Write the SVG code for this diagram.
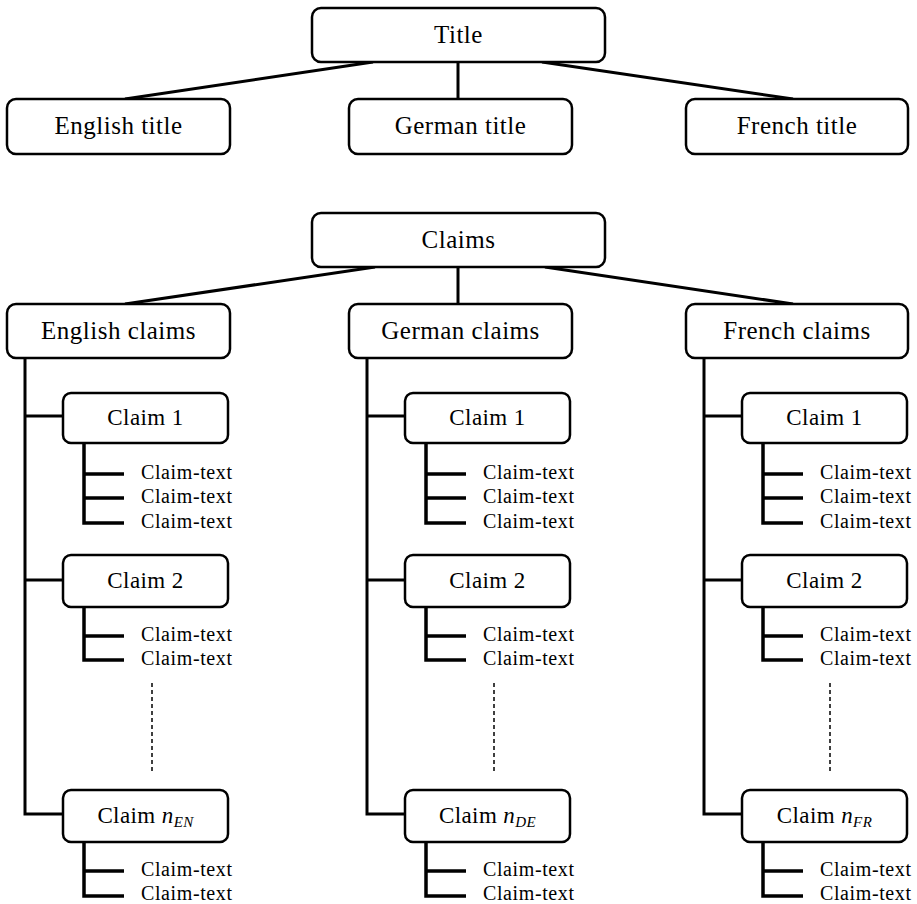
<svg xmlns="http://www.w3.org/2000/svg" width="917" height="904" viewBox="0 0 917 904">
<style>
.box{fill:#fff;stroke:#000;stroke-width:2.5}
.t{font-family:"Liberation Serif","Times New Roman",serif;fill:#000;text-anchor:middle}
.h{font-size:25px;letter-spacing:0.5px}
.c{font-size:23px;letter-spacing:0.4px}
.ct{font-family:"Liberation Serif","Times New Roman",serif;fill:#000;font-size:20px;letter-spacing:0.6px}
.ln{stroke:#000;stroke-width:3;fill:none}
.sub{stroke:#000;stroke-width:3.5;fill:none}
.dash{stroke:#000;stroke-width:1.5;stroke-dasharray:4 3;fill:none}
</style>
<rect width="917" height="904" fill="#fff"/>
<g id="connectors">
  <line class="ln" x1="373" y1="62" x2="125" y2="99"/>
  <line class="ln" x1="458" y1="62" x2="458" y2="99"/>
  <line class="ln" x1="542" y1="62" x2="793" y2="99"/>
  <line class="ln" x1="375" y1="267" x2="125" y2="304"/>
  <line class="ln" x1="458" y1="267" x2="458" y2="304"/>
  <line class="ln" x1="545" y1="267" x2="793" y2="304"/>
  <!-- English -->
  <path class="ln" d="M25 358 V814 H63 M25 416 H63 M25 580 H63"/>
  <path class="sub" d="M84 443 V523 H124 M84 474 H124 M84 498 H124"/>
  <path class="sub" d="M84 607 V660 H124 M84 636 H124"/>
  <path class="sub" d="M84 842 V896 H124 M84 871 H124"/>
  <line class="dash" x1="152" y1="683" x2="152" y2="773"/>
  <!-- German -->
  <path class="ln" d="M367 358 V814 H405 M367 416 H405 M367 580 H405"/>
  <path class="sub" d="M426 443 V523 H466 M426 474 H466 M426 498 H466"/>
  <path class="sub" d="M426 607 V660 H466 M426 636 H466"/>
  <path class="sub" d="M426 842 V896 H466 M426 871 H466"/>
  <line class="dash" x1="494" y1="683" x2="494" y2="773"/>
  <!-- French -->
  <path class="ln" d="M704 358 V814 H742 M704 416 H742 M704 580 H742"/>
  <path class="sub" d="M763 443 V523 H803 M763 474 H803 M763 498 H803"/>
  <path class="sub" d="M763 607 V660 H803 M763 636 H803"/>
  <path class="sub" d="M763 842 V896 H803 M763 871 H803"/>
  <line class="dash" x1="830" y1="683" x2="830" y2="773"/>
</g>
<g id="title"><rect class="box" x="312" y="8" width="293" height="54" rx="9"/><text class="t h" x="458.5" y="43">Title</text></g>
<g id="english-title"><rect class="box" x="7" y="99" width="223" height="55" rx="9"/><text class="t h" x="118.5" y="134">English title</text></g>
<g id="german-title"><rect class="box" x="349" y="99" width="223" height="55" rx="9"/><text class="t h" x="460.5" y="134">German title</text></g>
<g id="french-title"><rect class="box" x="686" y="99" width="222" height="55" rx="9"/><text class="t h" x="797" y="134">French title</text></g>
<g id="claims"><rect class="box" x="312" y="213" width="293" height="54" rx="9"/><text class="t h" x="458.5" y="248">Claims</text></g>
<g id="english-claims"><rect class="box" x="7" y="304" width="223" height="54" rx="9"/><text class="t h" x="118.5" y="339">English claims</text></g>
<g id="german-claims"><rect class="box" x="349" y="304" width="223" height="54" rx="9"/><text class="t h" x="460.5" y="339">German claims</text></g>
<g id="french-claims"><rect class="box" x="686" y="304" width="222" height="54" rx="9"/><text class="t h" x="797" y="339">French claims</text></g>

<g id="en-claim1"><rect class="box" x="63" y="393" width="165" height="50" rx="8"/><text class="t c" x="145.5" y="425">Claim 1</text></g>
<g id="en-claim1-texts"><text class="ct" x="141" y="479">Claim-text</text><text class="ct" x="141" y="503">Claim-text</text><text class="ct" x="141" y="528">Claim-text</text></g>
<g id="en-claim2"><rect class="box" x="63" y="555" width="165" height="52" rx="8"/><text class="t c" x="145.5" y="588">Claim 2</text></g>
<g id="en-claim2-texts"><text class="ct" x="141" y="641">Claim-text</text><text class="ct" x="141" y="665">Claim-text</text></g>
<g id="en-claimn"><rect class="box" x="63" y="790" width="165" height="52" rx="8"/><text class="t c" x="145.5" y="823">Claim <tspan font-style="italic">n</tspan><tspan font-style="italic" font-size="15" dy="4">EN</tspan></text></g>
<g id="en-claimn-texts"><text class="ct" x="141" y="876">Claim-text</text><text class="ct" x="141" y="900">Claim-text</text></g>

<g id="de-claim1"><rect class="box" x="405" y="393" width="165" height="50" rx="8"/><text class="t c" x="487.5" y="425">Claim 1</text></g>
<g id="de-claim1-texts"><text class="ct" x="483" y="479">Claim-text</text><text class="ct" x="483" y="503">Claim-text</text><text class="ct" x="483" y="528">Claim-text</text></g>
<g id="de-claim2"><rect class="box" x="405" y="555" width="165" height="52" rx="8"/><text class="t c" x="487.5" y="588">Claim 2</text></g>
<g id="de-claim2-texts"><text class="ct" x="483" y="641">Claim-text</text><text class="ct" x="483" y="665">Claim-text</text></g>
<g id="de-claimn"><rect class="box" x="405" y="790" width="165" height="52" rx="8"/><text class="t c" x="487.5" y="823">Claim <tspan font-style="italic">n</tspan><tspan font-style="italic" font-size="15" dy="4">DE</tspan></text></g>
<g id="de-claimn-texts"><text class="ct" x="483" y="876">Claim-text</text><text class="ct" x="483" y="900">Claim-text</text></g>

<g id="fr-claim1"><rect class="box" x="742" y="393" width="165" height="50" rx="8"/><text class="t c" x="824.5" y="425">Claim 1</text></g>
<g id="fr-claim1-texts"><text class="ct" x="820" y="479">Claim-text</text><text class="ct" x="820" y="503">Claim-text</text><text class="ct" x="820" y="528">Claim-text</text></g>
<g id="fr-claim2"><rect class="box" x="742" y="555" width="165" height="52" rx="8"/><text class="t c" x="824.5" y="588">Claim 2</text></g>
<g id="fr-claim2-texts"><text class="ct" x="820" y="641">Claim-text</text><text class="ct" x="820" y="665">Claim-text</text></g>
<g id="fr-claimn"><rect class="box" x="742" y="790" width="165" height="52" rx="8"/><text class="t c" x="824.5" y="823">Claim <tspan font-style="italic">n</tspan><tspan font-style="italic" font-size="15" dy="4">FR</tspan></text></g>
<g id="fr-claimn-texts"><text class="ct" x="820" y="876">Claim-text</text><text class="ct" x="820" y="900">Claim-text</text></g>
</svg>
